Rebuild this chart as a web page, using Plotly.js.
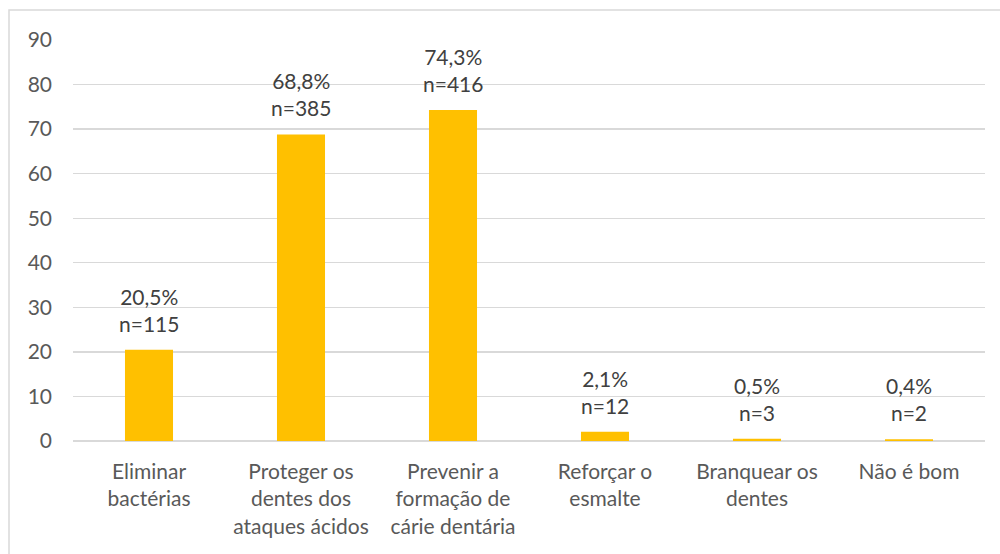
<!DOCTYPE html>
<html>
<head>
<meta charset="utf-8">
<script src="https://cdn.plot.ly/plotly-3.0.1.min.js"></script>
<style>html,body{margin:0;padding:0;background:#fff;}#chart{width:1000px;height:554px;}</style>
</head>
<body>
<div id="chart"></div>
<script>
const categories = ["Eliminar<br>bactérias", "Proteger os<br>dentes dos<br>ataques ácidos", "Prevenir a<br>formação de<br>cárie dentária", "Reforçar o<br>esmalte", "Branquear os<br>dentes", "Não é bom"];
const percentValues = [20.5, 68.8, 74.3, 2.1, 0.5, 0.4];
const percentLabels = ["20,5%", "68,8%", "74,3%", "2,1%", "0,5%", "0,4%"];
const counts = [115, 385, 416, 12, 3, 2];
const yTicks = [0, 10, 20, 30, 40, 50, 60, 70, 80, 90];

const xIdx = categories.map((c, i) => i);
const FONT = "Lato, 'Open Sans', sans-serif";

const trace = {
  type: "bar",
  x: xIdx,
  y: percentValues,
  marker: {color: "#FFC000"},
  width: 0.316,
  hoverinfo: "skip"
};

const annotations = xIdx.map((x, i) => ({
  x: x, y: percentValues[i], xref: "x", yref: "y",
  text: percentLabels[i] + "<br>n=" + counts[i],
  showarrow: false, yanchor: "bottom", xanchor: "center",
  yshift: 12,
  font: {family: FONT, size: 21, color: "#404040"}
}));

const layout = {
  width: 1000, height: 554,
  margin: {l: 73, r: 15, t: 40, b: 113},
  paper_bgcolor: "#fff", plot_bgcolor: "#fff",
  showlegend: false,
  font: {family: FONT, size: 21, color: "#595959"},
  xaxis: {
    range: [-0.5, 5.5],
    tickvals: xIdx, ticktext: categories,
    showgrid: false, zeroline: false, showline: false,
    ticks: "", ticklabelstandoff: 16,
    tickfont: {family: FONT, size: 21, color: "#595959"}
  },
  yaxis: {
    range: [0, 90],
    tickvals: yTicks,
    showgrid: true, gridcolor: "#D9D9D9", gridwidth: 1.3,
    zeroline: true, zerolinecolor: "#D9D9D9", zerolinewidth: 1.3,
    showline: false, ticks: "", ticklabelstandoff: 20,
    tickfont: {family: FONT, size: 21, color: "#595959"}
  },
  annotations: annotations,
  shapes: [{
    type: "rect", xref: "paper", yref: "paper",
    x0: (9 - 73) / 912, x1: 1.2, y0: -0.4, y1: (441 - 10) / 401,
    line: {color: "#D9D9D9", width: 1.5}, fillcolor: "rgba(0,0,0,0)", layer: "below"
  }]
};

Plotly.newPlot("chart", [trace], layout, {displayModeBar: false, staticPlot: true});
</script>
</body>
</html>
